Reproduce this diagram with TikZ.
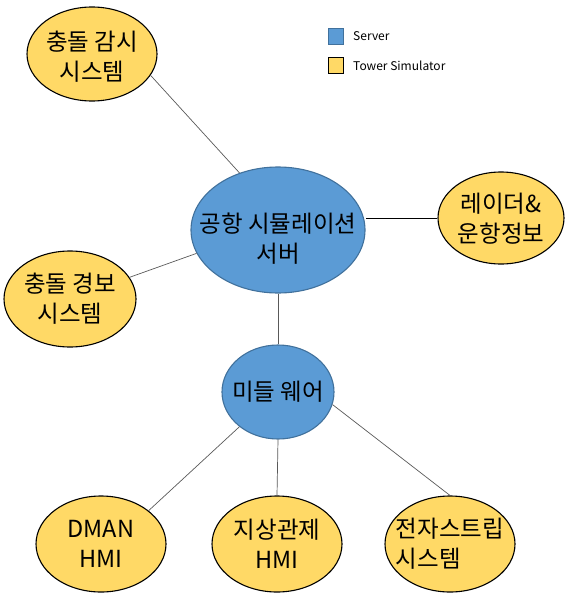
\documentclass[tikz,border=0pt]{standalone}
\usepackage{fontspec}
\usetikzlibrary{shapes.geometric}
\newfontfamily\kr{Noto Sans CJK KR}
\definecolor{srvfill}{HTML}{5B9BD5}
\definecolor{srvline}{HTML}{41719C}
\definecolor{simfill}{HTML}{FFD966}
\definecolor{conn}{HTML}{595959}
\begin{document}
\begin{tikzpicture}[x=1pt,y=-1pt,
  base/.style={ellipse,inner sep=0pt},
  txt/.style={inner sep=0pt,align=center,font=\kr\fontsize{23.5}{30}\selectfont},
  simnode/.style={base,draw=black,line width=1.1pt,fill=simfill},
  srvnode/.style={base,draw=srvline,line width=1.1pt,fill=srvfill},
  conline/.style={draw=conn,line width=0.7pt},
  legtext/.style={anchor=west,inner sep=0pt,font=\kr\fontsize{12}{14}\selectfont}]
\useasboundingbox (0,0) rectangle (566,594);
% nodes
\node[simnode,minimum width=130pt,minimum height=94pt,label={[txt,yshift=-3pt]center:충돌 감시\\시스템}] (tl) at (92,54) {};
\node[srvnode,minimum width=174pt,minimum height=126pt,label={[txt,yshift=-9pt]center:공항 시뮬레이션\\서버}] (srv) at (278,230) {};
\node[simnode,minimum width=126pt,minimum height=92pt,label={[txt,yshift=-1pt]center:레이더\&\\운항정보}] (radar) at (501,218) {};
\node[simnode,minimum width=132pt,minimum height=96pt,label={[txt]center:충돌 경보\\시스템}] (ca) at (70,299) {};
\node[srvnode,minimum width=112pt,minimum height=94pt,label={[txt]center:미들 웨어}] (mw) at (278,392) {};
\node[simnode,minimum width=130pt,minimum height=96pt,label={[txt]center:DMAN\\HMI}] (dman) at (101,544) {};
\node[simnode,minimum width=130pt,minimum height=96pt,label={[txt]center:지상관제\\HMI}] (gc) at (277,544) {};
\node[simnode,minimum width=130pt,minimum height=96pt,label={[txt,align=left]center:전자스트립\\시스템}] (strip) at (450,544) {};
% legend
\node[draw=srvline,fill=srvfill,line width=0.8pt,minimum width=15pt,minimum height=16pt,inner sep=0pt] (lsrv) at (336,36.5) {};
\node[draw=black,fill=simfill,line width=1.1pt,minimum width=15pt,minimum height=16pt,inner sep=0pt] (lsim) at (336,65.5) {};
\node[legtext] (tsrv) at (353,36.5) {Server};
\node[legtext] (tsim) at (353,65.5) {Tower Simulator};
% connectors
\draw[conline] (tl.-20) -- (srv.124);
\draw[conline] (ca.20) -- (srv.196);
\draw[draw=black,line width=0.8pt] (radar.west) -- (radar.west -| srv.east);
\draw[conline] (srv.south) -- (mw.north);
\draw[conline] (mw.222) -- (dman.35);
\draw[conline] (mw.south) -- (gc.north);
\draw[conline] (mw.-13) -- (strip.north);
\end{tikzpicture}
\end{document}
